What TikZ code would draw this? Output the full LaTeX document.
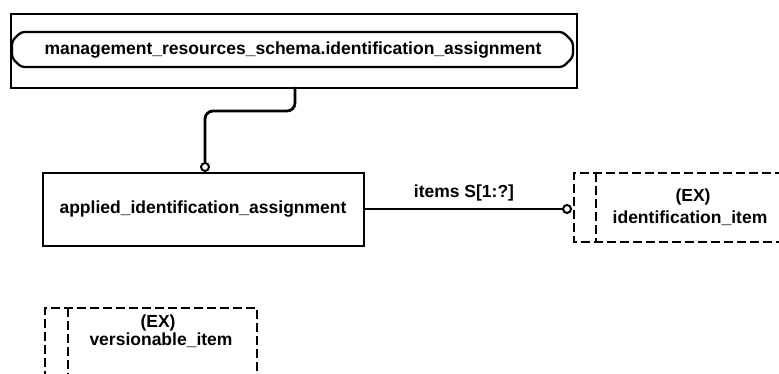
\documentclass[tikz,border=0pt]{standalone}
\usepackage{fontspec}
\setmainfont{Liberation Sans}
\begin{document}
\begin{tikzpicture}[x=1pt,y=-1pt,
  lbl/.style={font=\fontsize{17.5}{20}\selectfont\bfseries, inner sep=0pt},
  solidbox/.style={draw, line width=2.3pt},
  dashbox/.style={draw, line width=2.3pt, dash pattern=on 9pt off 4pt},
  conn/.style={draw, line width=2.8pt},
  ringend/.style={draw, line width=2pt, fill=white}]
\useasboundingbox (0,0) rectangle (779,374);
% schema reference
\node[solidbox, minimum width=566pt, minimum height=74pt, anchor=north west, inner sep=0pt] (outer) at (10,13) {};
\draw[line width=2.3pt, rounded corners=3.5pt] (21,32) -- (563,32) -- (573,42) -- (573,57) -- (563,67) -- (21,67) -- (12,58) -- (12,41) -- cycle;
\node[lbl] (schema) at (293,50) {management\_resources\_schema.identification\_assignment};
% applied box
\node[solidbox, minimum width=321pt, minimum height=73pt, anchor=north west, inner sep=0pt] (app) at (42,172) {};
\node[lbl] (apptext) at (203,209) {applied\_identification\_assignment};
% connector supertype
\coordinate (c1) at (295,87);
\node[ringend, circle, minimum size=8pt, inner sep=0pt] (r1) at (205,167) {};
\draw[conn, rounded corners=8pt] (c1) -- (295,111) -- (205,111) -- (r1.north);
% items relation
\node[ringend, circle, minimum size=8pt, inner sep=0pt] (r2) at (567,209) {};
\draw[conn] (app.east |- r2) -- (r2.west);
\node[lbl] (items) at (464,193) {items S[1:?]};
% identification_item
\draw[dashbox] (784,173) -- (574,173) -- (574,242) -- (784,242);
\draw[dashbox] (596,173) -- (596,242);
\node[lbl] (ex1) at (693,197) {(EX)};
\node[lbl] (iditem) at (690,218) {identification\_item};
% versionable_item
\draw[dashbox] (45,380) -- (45,308) -- (257,308) -- (257,380);
\draw[dashbox] (68,308) -- (68,380);
\node[lbl] (ex2) at (158,323) {(EX)};
\node[lbl] (veritem) at (161,340) {versionable\_item};
\end{tikzpicture}
\end{document}
